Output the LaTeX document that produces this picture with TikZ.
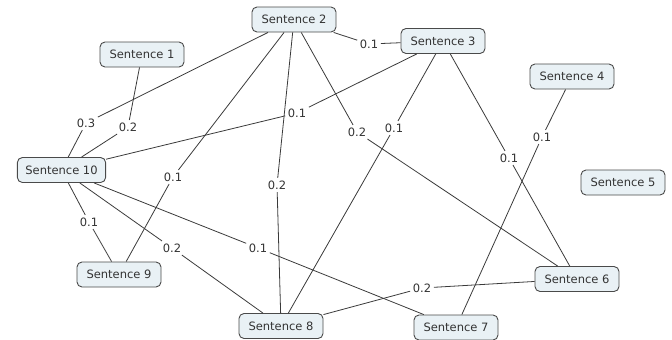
\documentclass[tikz,border=0pt]{standalone}
\usepackage{fontspec}
\setmainfont{DejaVu Sans}
\definecolor{boxfill}{HTML}{E9F1F5}
\definecolor{boxline}{HTML}{4A4A4A}
\definecolor{edge}{HTML}{3A3A3A}
\begin{document}
\begin{tikzpicture}[x=1pt,y=-1pt,
  sent/.style={draw=boxline, line width=0.9pt, fill=boxfill, rounded corners=5pt,
    minimum width=84pt, minimum height=25pt, inner xsep=8pt, inner ysep=3pt,
    font=\fontsize{11.5}{13}\selectfont, text=black!80},
  lab/.style={inner sep=2.5pt, font=\fontsize{11.5}{13}\selectfont, text=black!80},
  conn/.style={draw=edge, line width=0.8pt}]
\useasboundingbox (0,0) rectangle (672,340);
% sentences
\node[sent] (s1) at (142,54.5) {Sentence 1};
\node[sent] (s2) at (294,19.5) {Sentence 2};
\node[sent] (s3) at (443,41) {Sentence 3};
\node[sent] (s4) at (572,76.5) {Sentence 4};
\node[sent] (s5) at (623,182.5) {Sentence 5};
\node[sent] (s6) at (577,279) {Sentence 6};
\node[sent] (s7) at (456,327.5) {Sentence 7};
\node[sent] (s8) at (281,326) {Sentence 8};
\node[sent] (s9) at (119,274.5) {Sentence 9};
\node[sent] (s10) at (61.5,170) {Sentence 10};
% labels
\node[lab] (l2a) at (86,123) {0.3};
\node[lab] (l1a) at (128,127) {0.2};
\node[lab] (l3a) at (297,113) {0.1};
\node[lab] (l2b) at (369,44) {0.1};
\node[lab] (l2c) at (357,132) {0.2};
\node[lab] (l3b) at (394,128) {0.1};
\node[lab] (l3c) at (509,158) {0.1};
\node[lab] (l4a) at (542,137) {0.1};
\node[lab] (l2d) at (173,177) {0.1};
\node[lab] (l2e) at (277,185) {0.2};
\node[lab] (l10a) at (89,222) {0.1};
\node[lab] (l10b) at (172,248) {0.2};
\node[lab] (l10c) at (258,248) {0.1};
\node[lab] (l8a) at (422,288) {0.2};
% connectors
\draw[conn] (s2) -- (l2a) -- (s10);
\draw[conn] (s1) -- (l1a) -- (s10);
\draw[conn] (s3) -- (l3a) -- (s10);
\draw[conn] (s2) -- (l2b) -- (s3);
\draw[conn] (s2) -- (l2c) -- (s6);
\draw[conn] (s3) -- (l3b) -- (s8);
\draw[conn] (s3) -- (l3c) -- (s6);
\draw[conn] (s4) -- (l4a) -- (s7);
\draw[conn] (s2) -- (l2d) -- (s9);
\draw[conn] (s2) -- (l2e) -- (s8);
\draw[conn] (s10) -- (l10a) -- (s9);
\draw[conn] (s10) -- (l10b) -- (s8);
\draw[conn] (s10) -- (l10c) -- (s7);
\draw[conn] (s8) -- (l8a) -- (s6);
\end{tikzpicture}
\end{document}
